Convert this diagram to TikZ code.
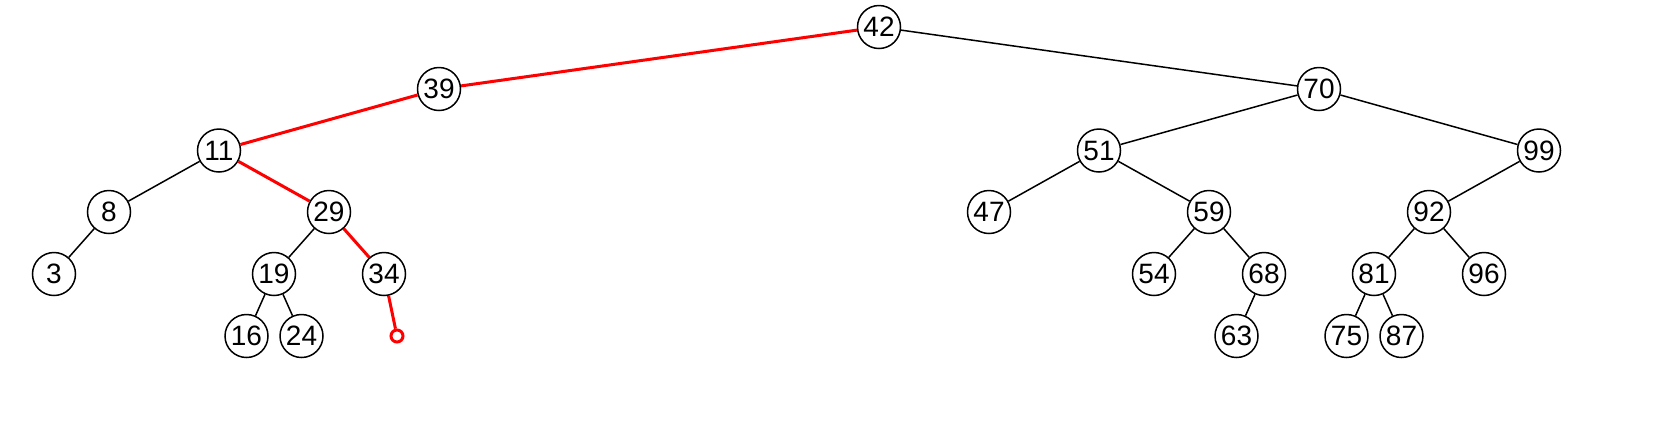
\documentclass[tikz,border=0pt]{standalone}
\usepackage{fontspec}
\setmainfont{Liberation Sans}
\begin{document}
\begin{tikzpicture}[x=0.5pt,y=-0.5pt,
  key/.style={circle,draw=black,line width=0.75pt,minimum size=21.5pt,inner sep=0pt,font=\fontsize{14}{14}\selectfont},
  nil/.style={circle,draw=red,line width=1.5pt,minimum size=6pt,inner sep=0pt},
  blk/.style={draw=black,line width=0.75pt},
  hot/.style={draw=red,line width=1.5pt}]
\useasboundingbox (0,0) rectangle (1675,425);
\node[key] (n42) at (879,27) {42};
\node[key] (n39) at (439,89) {39};
\node[key] (n70) at (1319,89) {70};
\node[key] (n11) at (219,150.5) {11};
\node[key] (n51) at (1099,150.5) {51};
\node[key] (n99) at (1539,150.5) {99};
\node[key] (n8) at (109,212) {8};
\node[key] (n29) at (329,212) {29};
\node[key] (n47) at (989,212) {47};
\node[key] (n59) at (1209,212) {59};
\node[key] (n92) at (1429,212) {92};
\node[key] (n3) at (54,274) {3};
\node[key] (n19) at (274,274) {19};
\node[key] (n34) at (384,274) {34};
\node[key] (n54) at (1154,274) {54};
\node[key] (n68) at (1264,274) {68};
\node[key] (n81) at (1374,274) {81};
\node[key] (n96) at (1484,274) {96};
\node[key] (n16) at (246.5,336) {16};
\node[key] (n24) at (301.5,336) {24};
\node[key] (n63) at (1236.5,336) {63};
\node[key] (n75) at (1346.5,336) {75};
\node[key] (n87) at (1401.5,336) {87};
\node[nil] (nil) at (397,336) {};
\draw[hot] (n42) -- (n39);
\draw[hot] (n39) -- (n11);
\draw[hot] (n11) -- (n29);
\draw[hot] (n29) -- (n34);
\draw[hot] (n34) -- (nil);
\draw[blk] (n42) -- (n70);
\draw[blk] (n70) -- (n51);
\draw[blk] (n70) -- (n99);
\draw[blk] (n11) -- (n8);
\draw[blk] (n8) -- (n3);
\draw[blk] (n29) -- (n19);
\draw[blk] (n19) -- (n16);
\draw[blk] (n19) -- (n24);
\draw[blk] (n51) -- (n47);
\draw[blk] (n51) -- (n59);
\draw[blk] (n59) -- (n54);
\draw[blk] (n59) -- (n68);
\draw[blk] (n68) -- (n63);
\draw[blk] (n99) -- (n92);
\draw[blk] (n92) -- (n81);
\draw[blk] (n92) -- (n96);
\draw[blk] (n81) -- (n75);
\draw[blk] (n81) -- (n87);
\end{tikzpicture}
\end{document}
